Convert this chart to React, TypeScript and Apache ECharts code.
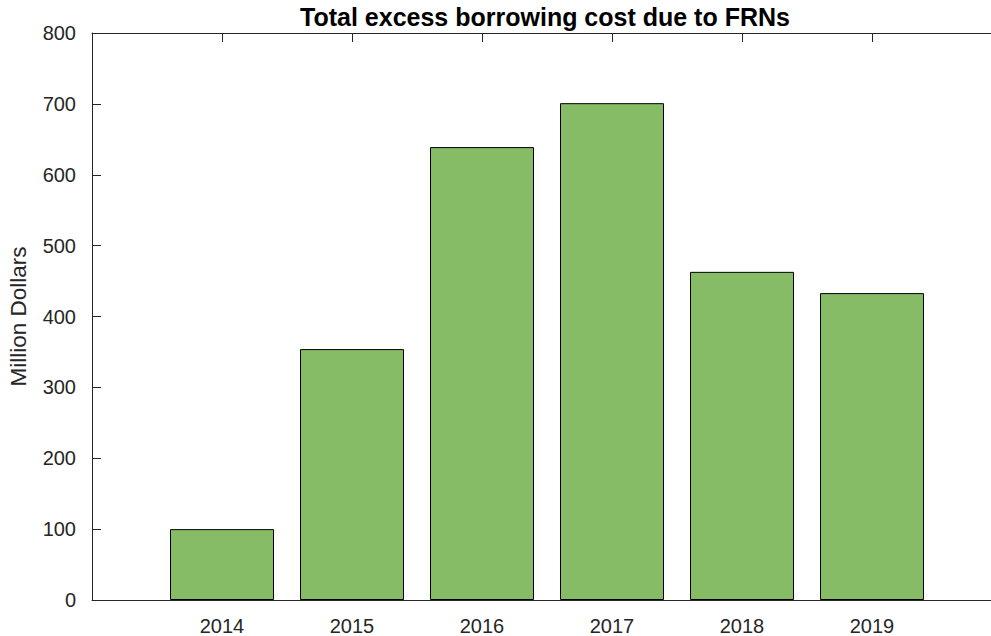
import React, { useEffect, useRef } from "react";
import * as echarts from "echarts";

const years = [2014, 2015, 2016, 2017, 2018, 2019];
const costs = [100, 354, 639, 701, 463, 433];
const yTicks = [0, 100, 200, 300, 400, 500, 600, 700, 800];

const FONT = "'Liberation Sans', Arial, sans-serif";
const INK = "#262626";

export default function App() {
  const ref = useRef<HTMLDivElement>(null);
  useEffect(() => {
    if (!ref.current) return;
    const chart = echarts.init(ref.current, undefined, { renderer: "svg" });
    const xCommon = {
      type: "value" as const,
      min: 2013,
      max: 2020,
      interval: 1,
      splitLine: { show: false },
      axisLine: { show: true, onZero: false, lineStyle: { color: INK, width: 1 } },
      axisTick: { show: true, inside: true, length: 9, lineStyle: { color: INK } },
    };
    chart.setOption({
      animation: false,
      backgroundColor: "#ffffff",
      title: {
        text: "Total excess borrowing cost due to FRNs",
        left: 540,
        textAlign: "center",
        top: -1,
        textStyle: { fontFamily: FONT, fontWeight: "bold", fontSize: 25, color: "#000" },
      },
      grid: { left: 92, top: 33, width: 910, height: 567, outerBoundsMode: "none", containLabel: false },
      xAxis: [
        {
          ...xCommon,
          position: "bottom",
          axisLabel: {
            show: true,
            fontFamily: FONT,
            fontSize: 20,
            color: INK,
            margin: 16,
            formatter: (v: number) => (years.includes(v) ? String(v) : ""),
          },
        },
        { ...xCommon, position: "top", axisLabel: { show: false } },
      ],
      yAxis: [
        {
          type: "value",
          min: yTicks[0],
          max: yTicks[yTicks.length - 1],
          interval: 100,
          position: "left",
          splitLine: { show: false },
          axisLine: { show: true, lineStyle: { color: INK, width: 1 } },
          axisTick: { show: true, inside: true, length: 9, lineStyle: { color: INK } },
          axisLabel: { fontFamily: FONT, fontSize: 20, color: INK, margin: 16 },
          name: "Million Dollars",
          nameLocation: "middle",
          nameRotate: 90,
          nameGap: 62,
          nameTextStyle: { fontFamily: FONT, fontSize: 22.5, color: INK },
        },
        {
          type: "value",
          min: yTicks[0],
          max: yTicks[yTicks.length - 1],
          interval: 100,
          position: "right",
          splitLine: { show: false },
          axisLine: { show: true, lineStyle: { color: INK, width: 1 } },
          axisTick: { show: true, inside: true, length: 9, lineStyle: { color: INK } },
          axisLabel: { show: false },
        },
      ],
      series: [
        {
          type: "bar",
          xAxisIndex: 0,
          yAxisIndex: 0,
          data: years.map((y, i) => [y, costs[i]]),
          barWidth: "80%",
          itemStyle: { color: "#86BC66", borderColor: "#000", borderWidth: 1 },
        },
      ],
    });
    return () => chart.dispose();
  }, []);
  return (
    <div
      style={{ position: "absolute", left: 0, top: 0, width: 991, height: 636, overflow: "hidden", background: "#fff" }}
    >
      <div ref={ref} style={{ width: 1030, height: 636 }} />
    </div>
  );
}
